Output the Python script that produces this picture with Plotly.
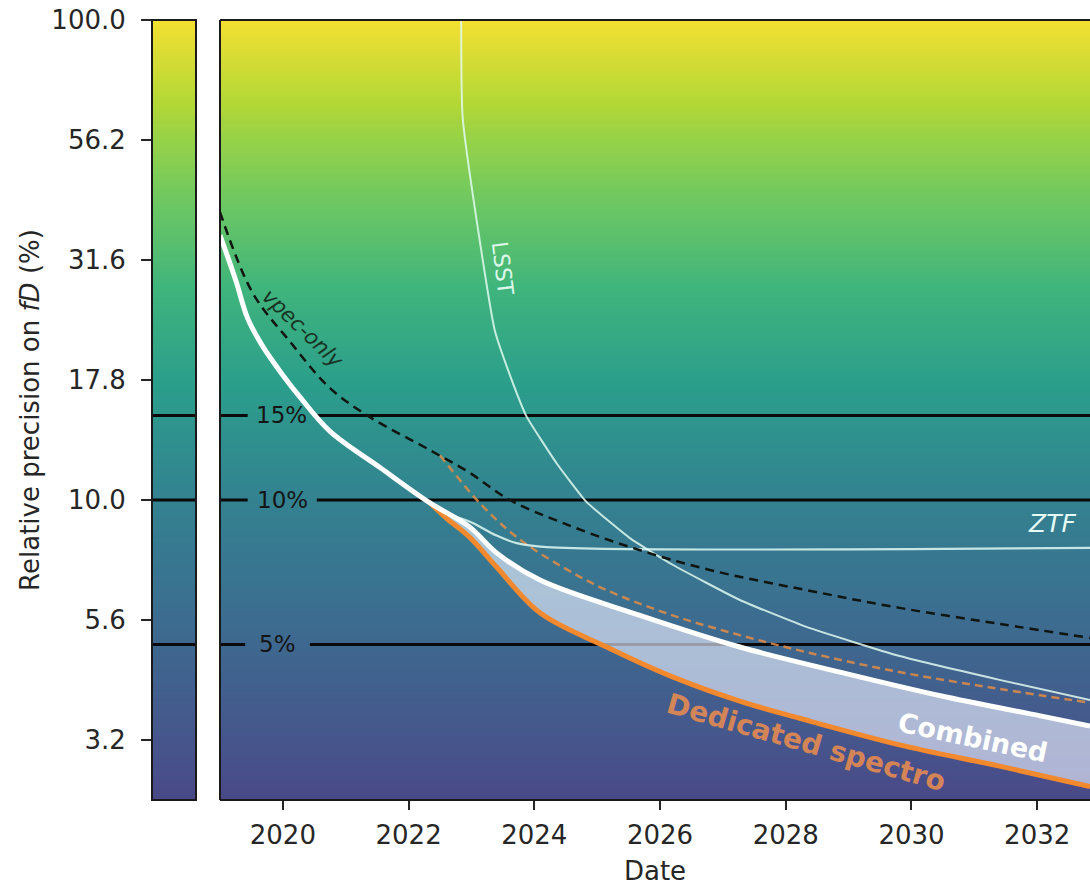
import numpy as np
import plotly.graph_objects as go

# ---------------- data ----------------
years_combined = [2019.00, 2019.25, 2019.44, 2019.67, 2020.00, 2020.27, 2020.75, 2021.54, 2022.34,
                  2022.97, 2023.40, 2024.09, 2025.68, 2027.27, 2028.86, 2030.46, 2032.05, 2032.84]
prec_combined = [35.6, 28.7, 23.9, 21.0, 18.2, 16.4, 13.9, 11.7, 9.86,
                 8.79, 7.76, 6.81, 5.75, 4.94, 4.38, 3.91, 3.55, 3.38]

years_spectro = [2022.34, 2022.60, 2022.97, 2023.40, 2024.09, 2025.15, 2026.20, 2027.27,
                 2028.22, 2029.81, 2031.40, 2032.84]
prec_spectro = [9.86, 9.17, 8.37, 7.25, 5.82, 4.94, 4.28, 3.81, 3.51, 3.09, 2.79, 2.53]

years_spectro_only = [2022.50, 2023.13, 2023.72, 2024.45, 2025.15, 2026.20, 2027.27,
                      2028.33, 2029.81, 2031.40, 2032.84]
prec_spectro_only = [12.4, 9.86, 8.37, 7.25, 6.49, 5.75, 5.23, 4.82, 4.38, 4.04, 3.78]

years_ztf = [2022.34, 2022.70, 2023.02, 2023.40, 2023.72, 2024.20, 2032.84]
prec_ztf = [9.86, 9.30, 8.96, 8.43, 8.13, 7.98, 7.95]

years_lsst = [2022.86, 2022.86, 2023.37, 2023.64, 2023.88, 2024.36, 2024.83,
              2025.52, 2026.20, 2027.27, 2028.33, 2029.81, 2031.40, 2032.84]
prec_lsst = [300.0, 62.8, 22.6, 17.8, 14.9, 11.9, 9.91,
             8.33, 7.33, 6.19, 5.44, 4.73, 4.22, 3.83]

years_vpec = [2019.00, 2019.52, 2020.11, 2020.75, 2021.38, 2022.34, 2022.97, 2023.61,
              2024.45, 2025.52, 2026.79, 2028.33, 2029.81, 2031.40, 2032.84]
prec_vpec = [39.8, 27.0, 21.4, 17.1, 14.9, 12.7, 11.4, 10.0,
             8.96, 7.98, 7.15, 6.49, 5.96, 5.52, 5.16]

levels = [15, 10, 5]
level_labels = ["15%", "10%", "5%"]

y_tick_labels = ["3.2", "5.6", "10.0", "17.8", "31.6", "56.2", "100.0"]
x_tick_years = [2020, 2022, 2024, 2026, 2028, 2030, 2032]

# ---------------- layout constants ----------------
X0, X1 = 2019.0, 2032.84
YMIN_LOG, YMAX_LOG = 0.375, 2.0
FONT = "DejaVu Sans"
TXT = "#262626"
SMOOTH = 1.0

fig = go.Figure()

# viridis background, coloured by log10 of the precision
y_edges = 10 ** np.linspace(YMIN_LOG - 0.01, YMAX_LOG + 0.01, 401)
y_mid_log = 0.5 * (np.log10(y_edges[:-1]) + np.log10(y_edges[1:]))
anchor_log = [0.375, 0.5, 0.75, 1.0, 1.25, 1.5, 1.75, 2.0]
anchor_frac = [0.19, 0.24, 0.33, 0.43, 0.56, 0.70, 0.84, 1.0]
shade = np.interp(y_mid_log, anchor_log, anchor_frac).reshape(-1, 1)

for xa, xe in (("x", [X0 - 0.5, X1 + 0.5]), ("x2", [-0.5, 1.5])):
    fig.add_trace(go.Heatmap(
        x=xe, y=y_edges, z=shade, xaxis=xa, yaxis="y",
        colorscale="Viridis", zmin=0, zmax=1, showscale=False,
        opacity=0.9, hoverinfo="skip"))

# precision levels with inline labels (gap around the label)
gaps = [(2019.44, 2020.52), (2019.44, 2020.54), (2019.40, 2020.43)]
for lev, lab, (g0, g1) in zip(levels, level_labels, gaps):
    fig.add_trace(go.Scatter(
        x=[X0, g0, None, g1, X1 + 1], y=[lev, lev, None, lev, lev],
        mode="lines", line=dict(color="#0a0a0a", width=3),
        hoverinfo="skip", showlegend=False, xaxis="x", yaxis="y"))
    fig.add_trace(go.Scatter(
        x=[-0.5, 1.5], y=[lev, lev], mode="lines",
        line=dict(color="#0a0a0a", width=3),
        hoverinfo="skip", showlegend=False, xaxis="x2", yaxis="y"))
    fig.add_annotation(
        x=(g0 + g1) / 2, y=np.log10(lev), xref="x", yref="y", text=lab,
        showarrow=False, font=dict(family=FONT, size=23, color="#151515"),
        xanchor="center", yanchor="middle")

# band between combined and dedicated spectro
i0 = years_combined.index(years_spectro[0])
fig.add_trace(go.Scatter(
    x=years_spectro, y=prec_spectro, mode="lines",
    line=dict(width=0, shape="spline", smoothing=SMOOTH),
    hoverinfo="skip", showlegend=False))
fig.add_trace(go.Scatter(
    x=years_combined[i0:], y=prec_combined[i0:], mode="lines",
    fill="tonexty", fillcolor="rgba(235,240,255,0.64)",
    line=dict(width=0, shape="spline", smoothing=SMOOTH),
    hoverinfo="skip", showlegend=False))

# individual probes
fig.add_trace(go.Scatter(
    x=years_spectro_only, y=prec_spectro_only, mode="lines",
    line=dict(color="rgba(226,140,70,0.85)", width=2.5, dash="8px,5px",
              shape="spline", smoothing=SMOOTH),
    hoverinfo="skip", showlegend=False))
fig.add_trace(go.Scatter(
    x=years_lsst, y=prec_lsst, mode="lines",
    line=dict(color="rgba(225,250,240,0.85)", width=2, shape="spline", smoothing=0.4),
    hoverinfo="skip", showlegend=False))
fig.add_trace(go.Scatter(
    x=years_ztf, y=prec_ztf, mode="lines",
    line=dict(color="rgba(225,250,245,0.85)", width=2.2, shape="spline", smoothing=SMOOTH),
    hoverinfo="skip", showlegend=False))
fig.add_trace(go.Scatter(
    x=years_vpec, y=prec_vpec, mode="lines",
    line=dict(color="#101510", width=2.5, dash="9px,6px", shape="spline", smoothing=SMOOTH),
    hoverinfo="skip", showlegend=False))
fig.add_trace(go.Scatter(
    x=years_spectro, y=prec_spectro, mode="lines",
    line=dict(color="#f3892f", width=5, shape="spline", smoothing=SMOOTH),
    hoverinfo="skip", showlegend=False))
fig.add_trace(go.Scatter(
    x=years_combined, y=prec_combined, mode="lines",
    line=dict(color="#ffffff", width=5, shape="spline", smoothing=SMOOTH),
    hoverinfo="skip", showlegend=False))

# curve labels
labels = [
    ("LSST", 2023.50, 1.483, 83, dict(family=FONT, size=22, color="#dcf7ea")),
    ("<i>vpec-only</i>", 2020.32, 1.356, 44, dict(family=FONT, size=21, color="#183424")),
    ("<i>ZTF</i>", 2032.24, 0.952, 0, dict(family=FONT, size=25, color="#e6fbf6")),
    ("<b>Combined</b>", 2030.98, 0.506, 12, dict(family=FONT, size=27, color="#ffffff")),
    ("<b>Dedicated spectro</b>", 2028.32, 0.494, 16, dict(family=FONT, size=28, color="rgba(232,140,80,0.9)")),
]
for txt, lx, ly, ang, fnt in labels:
    fig.add_annotation(x=lx, y=ly, xref="x", yref="y", text=txt, textangle=ang,
                       showarrow=False, font=fnt, xanchor="center", yanchor="middle")

# frames
frame = dict(color="#1a1a1a", width=2)
fig.add_shape(type="rect", xref="x2 domain", yref="y domain", x0=0, x1=1, y0=0, y1=1,
              line=frame, layer="above")
for sx0, sx1, sy0, sy1 in ((0, 0, 0, 1), (0, 1.01, 1, 1), (0, 1.01, 0, 0)):
    fig.add_shape(type="line", xref="x domain", yref="y domain",
                  x0=sx0, x1=sx1, y0=sy0, y1=sy1, line=frame, layer="above")

y_tick_vals = list(10 ** np.arange(0.5, 2.01, 0.25))

fig.update_layout(
    width=1090, height=889,
    margin=dict(l=152, r=0, t=20, b=89),
    paper_bgcolor="white", plot_bgcolor="#a0a0a0",
    showlegend=False,
    font=dict(family=FONT, size=26, color=TXT),
    xaxis=dict(domain=[68 / 938, 1], range=[X0, X1], anchor="y",
               tickvals=x_tick_years, ticktext=[str(v) for v in x_tick_years],
               ticks="outside", ticklen=9, tickwidth=1.5, tickcolor=TXT,
               ticklabelstandoff=3,
               showgrid=False, zeroline=False, showline=False,
               tickfont=dict(family=FONT, size=26, color=TXT),
               title=dict(text="Date", font=dict(family=FONT, size=26, color=TXT), standoff=12)),
    xaxis2=dict(domain=[0, 44 / 938], range=[0, 1], anchor="y",
                showticklabels=False, ticks="", showgrid=False, zeroline=False, showline=False),
    yaxis=dict(type="log", range=[YMIN_LOG, YMAX_LOG], anchor="x2",
               tickvals=y_tick_vals, ticktext=y_tick_labels,
               ticks="outside", ticklen=10, tickwidth=1.5, tickcolor=TXT,
               ticklabelstandoff=10,
               showgrid=False, zeroline=False, showline=False,
               tickfont=dict(family=FONT, size=26, color=TXT),
               title=dict(text="Relative precision on <i>fD</i> (%)",
                          font=dict(family=FONT, size=26, color=TXT), standoff=4)),
)

fig.write_html("out.html")
